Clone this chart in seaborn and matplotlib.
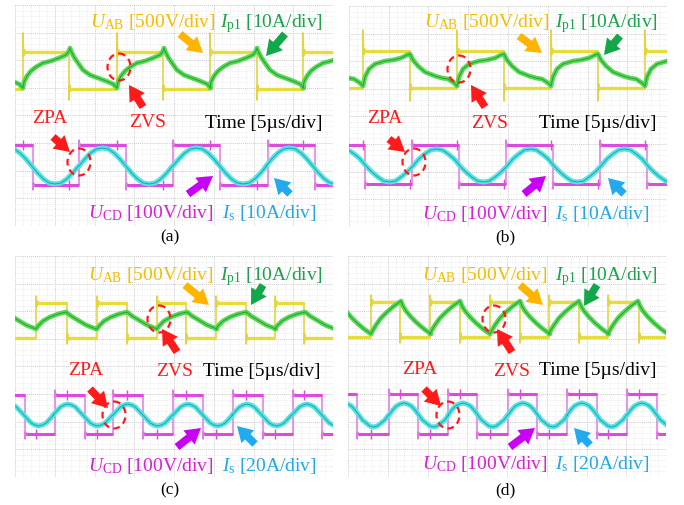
import numpy as np
import matplotlib
matplotlib.use('Agg')
import matplotlib.pyplot as plt
import seaborn as sns
from matplotlib.patches import Ellipse, FancyArrowPatch

sns.set_theme(style='white')
plt.rcParams['font.family'] = ['Liberation Serif', 'DejaVu Serif']
plt.rcParams['mathtext.fontset'] = 'custom'
plt.rcParams['mathtext.rm'] = 'Liberation Serif'
plt.rcParams['mathtext.it'] = 'Liberation Serif:italic'

# scope screen units: 318 x 221, y counted downward from the top of each screen
# --- (a) ---
a_uab_rise = [8, 102, 195, 288]
a_uab_fall = [54, 148, 242]
a_uab_lvl = [47, 84]
a_uab_spike = [28, 95]
a_ucd_rise = [64, 158, 253]
a_ucd_fall = [18, 111, 205, 300]
a_ucd_lvl = [140, 180]
a_ip_start = [-86, 8, 102, 195, 288]
a_ip_dt = [0, 1, 4, 8, 13, 20, 28, 36, 43, 46, 47, 48, 51, 55, 60, 67, 75, 83, 90, 93, 94]
a_ip_y = [83, 77, 71, 66, 62, 58, 56, 53, 50, 46, 43, 46, 52, 58, 65, 70, 73, 76, 79, 82, 83]
a_is_start = [-30, 64, 158, 251]
a_is_period = 93.5
a_is_y = [161, 154, 148, 144, 143, 144, 148, 154, 161, 168, 174, 178, 179, 178, 174, 168, 161]

# --- (b) ---
b_uab_rise = [14, 108, 202, 296]
b_uab_fall = [61, 155, 249]
b_uab_lvl = [45, 82]
b_uab_spike = [24, 95]
b_ucd_rise = [63, 157, 251]
b_ucd_fall = [16, 110, 204, 298]
b_ucd_lvl = [139, 178]
b_ip_start = [-80, 14, 108, 202, 296]
b_ip_dt = [0, 2, 6, 12, 22, 30, 38, 44, 47, 50, 55, 62, 72, 79, 85, 91, 94]
b_ip_y = [80, 71, 63, 58, 55, 54, 52, 49, 48, 54, 60, 66, 70, 72, 73, 77, 80]
b_is_start = [-30, 64, 158, 252]
b_is_period = 94
b_is_y = [160, 153, 148, 144, 143, 144, 148, 153, 160, 166, 171, 175, 176, 175, 171, 166, 160]

# --- (c) ---
c_uab_rise = [21, 82, 142, 201, 260]
c_uab_fall = [52, 112, 171, 231, 289]
c_uab_lvl = [47, 82]
c_uab_spike = [40, 88]
c_ucd_rise = [40, 98, 158, 218, 278]
c_ucd_fall = [10, 70, 128, 188, 248, 307]
c_ucd_lvl = [139, 178]
c_ip_start = [-39, 21, 82, 142, 201, 260]
c_ip_dt = [0, 2, 7, 14, 22, 30, 32, 35, 40, 50, 60]
c_ip_y = [73, 70, 65, 61, 58, 56, 57.5, 60, 63, 69, 73]
c_is_start = [-21, 38, 98, 158, 217, 277]
c_is_period = 59.6
c_is_y = [159, 155, 151, 149, 148, 149, 151, 155, 159, 163, 167, 169, 170, 169, 167, 163, 159]

# --- (d) ---
d_uab_rise = [23, 82, 142, 201, 260]
d_uab_fall = [52, 112, 172, 231, 291]
d_uab_lvl = [46, 81]
d_uab_spike = [39, 87]
d_ucd_rise = [41, 100, 160, 219, 279]
d_ucd_fall = [9, 70, 129, 189, 249, 309]
d_ucd_lvl = [138, 178]
d_ip_start = [-37, 23, 82, 142, 201, 260]
d_ip_dt = [0, 2, 5, 10, 16, 23, 30, 32, 35, 40, 46, 53, 60]
d_ip_y = [78, 74, 69, 62, 56, 50, 45, 50, 55, 61, 67, 73, 78]
d_is_start = [-19, 41, 100, 160, 219, 279]
d_is_period = 59.5
d_is_y = [159, 154, 150, 148, 147, 148, 150, 154, 159, 164, 167, 170, 171, 170, 167, 164, 159]

is_frac = [0, .0625, .125, .1875, .25, .3125, .375, .4375, .5, .5625, .625, .6875, .75, .8125, .875, .9375, 1]
is_scale = ['10A', '10A', '20A', '20A']
labels = ['(a)', '(b)', '(c)', '(d)']

YEL, YEL_E, GRN, GRN_D = '#e6dc3a', '#e2d640', '#55d955', '#2b9e30'
MAG, MAG_E, CYA, CYA_D = '#dd4add', '#e47ae4', '#55e3e3', '#22a3ab'
T_YEL, T_GRN, T_MAG, T_CYA = '#f5bd00', '#1ba24b', '#d81ed8', '#22a8e6'
A_ORG, A_GRN, A_MAG, A_CYA, RED = '#ffb400', '#12a84a', '#c800f5', '#22aaee', '#ff1a1a'

W, H = 318, 221
fig = plt.figure(figsize=(6.84, 5.06), dpi=100)


def screen(left, top):
    return fig.add_axes([left / 684, 1 - (top + H) / 506, W / 684, H / 506])


def square(rise, fall, lvl, spike, ring, start_high):
    edges = sorted([(t, 1) for t in rise] + [(t, 0) for t in fall])
    hi, lo = lvl
    cur = hi if start_high else lo
    xs, ys = [-5], [cur]
    flats = []
    t0 = -5
    for t, up in edges:
        new = hi if up else lo
        pk = spike[0] if up else spike[1]
        r = ring if up else -ring
        flats.append((t0, t, cur))
        xs += [t, t, t + 0.6, t + 1.4, t + 2.6]
        ys += [cur, pk, new + r, new - r / 2, new]
        cur = new
        t0 = t + 1.4
    flats.append((t0, W + 5, cur))
    xs.append(W + 5)
    ys.append(cur)
    return xs, ys, flats


def level_at(t, rise, fall, lvl, start_high):
    ev = [(e, 1) for e in rise if e <= t] + [(e, 0) for e in fall if e <= t]
    if not ev:
        return lvl[0] if start_high else lvl[1]
    return lvl[0] if max(ev)[1] == 1 else lvl[1]


def tile(starts, dt, y):
    xs, ys = [], []
    for s in starts:
        xs += [s + d for d in dt]
        ys += list(y)
    return xs, ys


def trace(ax, xs, ys, color, lw, z):
    sns.lineplot(x=xs, y=ys, sort=False, estimator=None, color=color, lw=lw, ax=ax, zorder=z)


def flat_lines(ax, flats, color, lw, z):
    for a, b, v in flats:
        ax.hlines(v, a, b, color=color, lw=lw, zorder=z)


panels = [
    (15, 6, a_uab_rise, a_uab_fall, a_uab_lvl, a_uab_spike, a_ucd_rise, a_ucd_fall, a_ucd_lvl,
     a_ip_start, a_ip_dt, a_ip_y, a_is_start, a_is_period, a_is_y),
    (349, 7, b_uab_rise, b_uab_fall, b_uab_lvl, b_uab_spike, b_ucd_rise, b_ucd_fall, b_ucd_lvl,
     b_ip_start, b_ip_dt, b_ip_y, b_is_start, b_is_period, b_is_y),
    (15, 257, c_uab_rise, c_uab_fall, c_uab_lvl, c_uab_spike, c_ucd_rise, c_ucd_fall, c_ucd_lvl,
     c_ip_start, c_ip_dt, c_ip_y, c_is_start, c_is_period, c_is_y),
    (348, 257, d_uab_rise, d_uab_fall, d_uab_lvl, d_uab_spike, d_ucd_rise, d_ucd_fall, d_ucd_lvl,
     d_ip_start, d_ip_dt, d_ip_y, d_is_start, d_is_period, d_is_y),
]

for (left, top, ur, uf, ul, us, cr, cf, cl, ips, ipdt, ipy, iss, isp, isy) in panels:
    ax = screen(left, top)
    # yellow U_AB
    x, y, fl = square(ur, uf, ul, us, 4, False)
    trace(ax, x, y, YEL_E, 1.2, 3)
    flat_lines(ax, fl, YEL, 2.4, 3)
    # green I_p1
    x, y = tile(ips, ipdt, ipy)
    trace(ax, x, y, GRN, 3.4, 4)
    trace(ax, x, y, GRN_D, 0.7, 5)
    # magenta U_CD
    x, y, fl = square(cr, cf, cl, [cl[0] - 5, cl[1] + 5], 2, True)
    trace(ax, x, y, MAG_E, 1.1, 3)
    flat_lines(ax, fl, MAG, 2.2, 3)
    for t in ur + uf:
        lv = level_at(t, cr, cf, cl, True)
        ax.vlines(t, lv - 5, lv + 5, color=MAG, lw=1.0, zorder=3)
    # cyan I_s
    x, y = tile(iss, [f * isp for f in is_frac], isy)
    trace(ax, x, y, CYA, 3.6, 6)
    trace(ax, x, y, CYA_D, 0.7, 7)

    ax.set_xlim(0, W)
    ax.set_ylim(H, 0)
    ax.set_xticks(np.arange(0, W + 1, 39.75))
    ax.set_yticks(np.arange(0, H + 1, 27.6))
    ax.set_xticks(np.arange(0, W + 1, 7.95), minor=True)
    ax.set_yticks(np.arange(0, H + 1, 5.52), minor=True)
    ax.grid(which='major', color='#cccccc', lw=0.7, ls=(0, (1, 1)))
    ax.grid(which='minor', color='#ebebeb', lw=0.6, ls=(0, (1, 1)))
    ax.tick_params(which='both', length=0, labelbottom=False, labelleft=False)
    ax.set_xlabel('')
    ax.set_ylabel('')
    for s in ax.spines.values():
        s.set_visible(False)

# overlay for the annotations (figure pixels)
ov = fig.add_axes([0, 0, 1, 1], zorder=10)
ov.set_xlim(0, 684)
ov.set_ylim(506, 0)
ov.axis('off')
ov.patch.set_alpha(0)

layout = [
    dict(uab=(90, 27), ip=(220, 27), orng=((180, 35), (203, 54)), grn=((285, 35), (266, 57)),
         zc=(119, 68), za=((143, 108), (129, 86)), zt=(148, 127), tm=(205, 128),
         pt=(50, 123), pa=((53, 138), (70, 153)), pc=(79, 163),
         mag=((188, 195), (213, 177)), cya=((290, 195), (274, 179)), ucd=(88, 218), isl=(222, 218), lab=(170, 237)),
    dict(uab=(424, 27), ip=(555, 27), orng=((519, 37), (542, 54)), grn=((620, 37), (604, 56)),
         zc=(459, 70), za=((485, 108), (471, 86)), zt=(490, 128), tm=(539, 128),
         pt=(385, 123), pa=((389, 140), (405, 153)), pc=(414, 163),
         mag=((524, 195), (546, 177)), cya=((624, 195), (608, 179)), ucd=(422, 219), isl=(555, 219), lab=(505, 237)),
    dict(uab=(88, 280), ip=(220, 280), orng=((185, 286), (209, 306)), grn=((263, 286), (251, 306)),
         zc=(159, 320), za=((177, 353), (162, 330)), zt=(175, 376), tm=(203, 376),
         pt=(86, 375), pa=((90, 390), (108, 409)), pc=(114, 416),
         mag=((177, 448), (201, 429)), cya=((255, 445), (237, 427)), ucd=(88, 471), isl=(222, 471), lab=(170, 490)),
    dict(uab=(422, 280), ip=(555, 280), orng=((520, 286), (543, 306)), grn=((597, 286), (584, 307)),
         zc=(494, 320), za=((512, 353), (497, 330)), zt=(512, 376), tm=(539, 375),
         pt=(420, 374), pa=((424, 390), (441, 407)), pc=(448, 416),
         mag=((510, 448), (535, 429)), cya=((590, 446), (574, 429)), ucd=(422, 469), isl=(555, 469), lab=(505, 490)),
]

FS = 14


def arrow(p, color):
    ov.add_patch(FancyArrowPatch(p[0], p[1], arrowstyle='simple,head_length=11,head_width=13,tail_width=5.5',
                                 mutation_scale=1, color=color, lw=0, shrinkA=0, shrinkB=0))


def ring(c):
    ov.add_patch(Ellipse(c, 23, 27, fill=False, ec=RED, lw=1.6, ls=(0, (3, 2))))


for lay, isc, lab in zip(layout, is_scale, labels):
    ov.text(*lay['uab'], r'$U_{\mathrm{AB}}$ [500V/div]', color=T_YEL, fontsize=FS, va='baseline')
    ov.text(*lay['ip'], r'$I_{\mathrm{p1}}$ [10A/div]', color=T_GRN, fontsize=FS, va='baseline')
    ov.text(*lay['tm'], 'Time [5\u00b5s/div]', color='black', fontsize=FS, va='baseline')
    ov.text(*lay['zt'], 'ZVS', color=RED, fontsize=FS, va='baseline', ha='center')
    ov.text(*lay['pt'], 'ZPA', color=RED, fontsize=FS, va='baseline', ha='center')
    ov.text(*lay['ucd'], r'$U_{\mathrm{CD}}$ [100V/div]', color=T_MAG, fontsize=FS, va='baseline')
    ov.text(*lay['isl'], r'$I_{\mathrm{s}}$ [' + isc + '/div]', color=T_CYA, fontsize=FS, va='baseline')
    ov.text(*lay['lab'], lab, color='black', fontsize=12.5, va='center', ha='center')
    arrow(lay['orng'], A_ORG)
    arrow(lay['grn'], A_GRN)
    arrow(lay['za'], RED)
    arrow(lay['pa'], RED)
    arrow(lay['mag'], A_MAG)
    arrow(lay['cya'], A_CYA)
    ring(lay['zc'])
    ring(lay['pc'])

fig.savefig('out.png', dpi=100)
